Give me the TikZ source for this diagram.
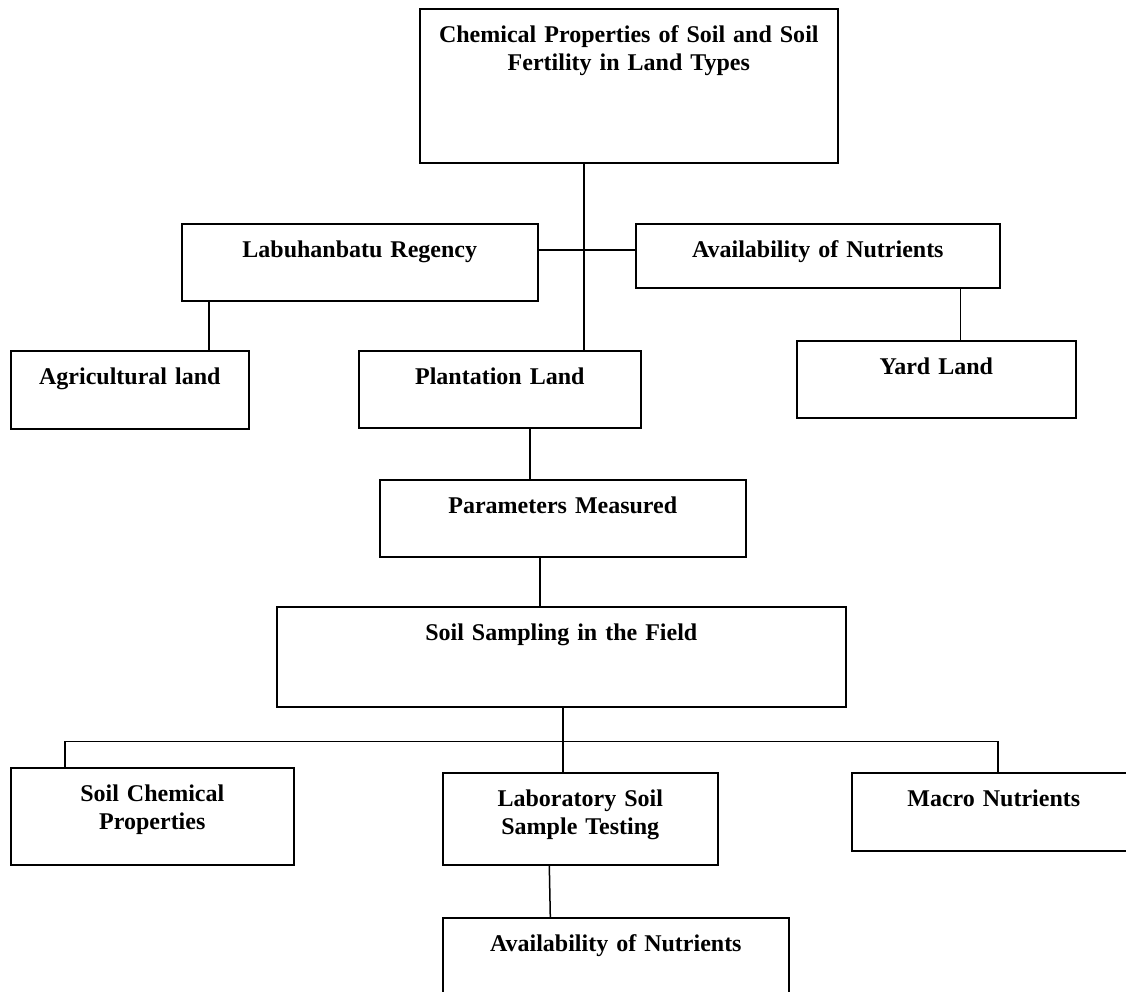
\documentclass[tikz,border=0pt]{standalone}
\usepackage{fontspec}
\setmainfont{Liberation Serif}

\begin{document}
\begin{tikzpicture}[x=1pt, y=-1pt,
  blk/.style={draw, line width=1.6pt, anchor=north west, inner sep=0pt, align=center,
    font=\fontsize{24}{27.6}\selectfont\bfseries, text height=34pt},
  link/.style={line width=1.5pt}]
\useasboundingbox (0,0) rectangle (1126,991);

% Boxes of the upper part
\node[blk, text width=418pt, text depth=120pt] (chem) at (419,8) {Chemical Properties of Soil and Soil\\Fertility in Land Types};
\node[blk, text width=356pt, text depth=43pt] (labu) at (181,223) {Labuhanbatu Regency};
\node[blk, text width=364pt, text depth=30pt] (avail) at (635,223) {Availability of Nutrients};
\node[blk, text width=238pt, text depth=44pt] (agri) at (10,350) {Agricultural land};
\node[blk, text width=282pt, text depth=43pt] (plant) at (358,350) {Plantation Land};
\node[blk, text width=279pt, text depth=43pt] (yard) at (796,340) {Yard Land};

% Boxes of the lower part
\node[blk, text width=366pt, text depth=43pt] (param) at (379,479) {Parameters Measured};
\node[blk, text width=569pt, text depth=66pt] (soil) at (276,606) {Soil Sampling in the Field};
\node[blk, text width=283pt, text depth=63pt] (chemprop) at (10,767) {Soil Chemical\\Properties};
\node[blk, text width=275pt, text depth=58pt] (lab) at (442,772) {Laboratory Soil\\Sample Testing};
\node[blk, text width=284pt, text depth=44pt] (macro) at (851,772) {Macro Nutrients};
\node[blk, text width=346pt, text depth=66pt] (availb) at (442,917) {Availability of Nutrients};

% Trunk and cross bar under the title
\coordinate (hub) at (584,250);
\draw[link] (hub |- chem.south) -- (hub |- plant.north);
\draw[link] (labu.east |- hub) -- (avail.west |- hub);

% Side drops
\draw[link] ([xshift=28pt]labu.south west) -- ([xshift=28pt]labu.south west |- agri.north);
\draw[link] ([xshift=-40pt]avail.south east) -- ([xshift=-40pt]avail.south east |- yard.north);

% Middle chain
\draw[link] ([xshift=30pt]plant.south) -- ([xshift=30pt]plant.south |- param.north);
\draw[link] ([xshift=-23pt]param.south) -- ([xshift=-23pt]param.south |- soil.north);

% Bus to the three bottom boxes
\draw[link] ([xshift=1.5pt]soil.south) -- ++(0,34) coordinate (bus);
\draw[link] ([xshift=55pt]chemprop.north west) |- (bus) -| ([xshift=147pt]macro.north west);
\draw[link] (bus) -- (bus |- lab.north);
\draw[link] ([xshift=-31pt]lab.south) -- ([xshift=-30pt]lab.south |- availb.north);
\end{tikzpicture}
\end{document}
